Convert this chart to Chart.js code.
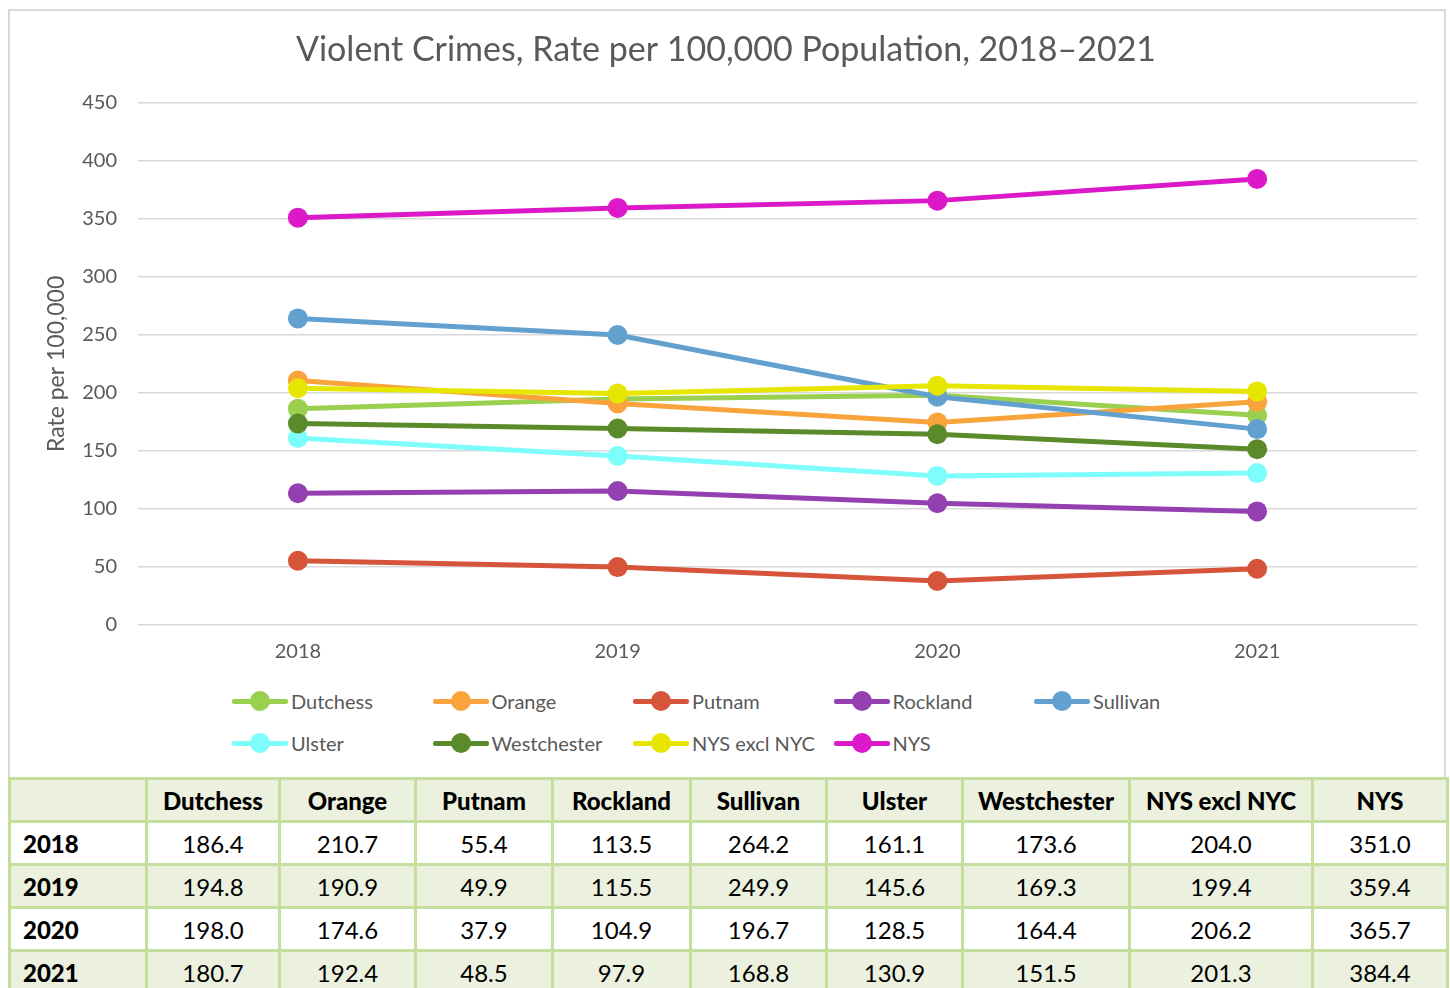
<!DOCTYPE html>
<html>
<head>
<meta charset="utf-8">
<script src="https://cdn.jsdelivr.net/npm/chart.js@4.4.1/dist/chart.umd.min.js"></script>
<style>
  html, body { margin: 0; padding: 0; background: #fff; width: 1450px; height: 988px; overflow: hidden; }
  body { position: relative; font-family: "Lato", sans-serif; }
  .frame {
    position: absolute; left: 8px; top: 9px; width: 1434px; height: 766px;
    border: 2px solid #d9d9d9; background: #fff;
  }
  .canvasWrap { position: absolute; left: 0; top: 0; width: 1434px; height: 665px; }
  .legend {
    position: absolute; left: 222px; top: 678px; width: 1010px;
    display: grid; grid-template-columns: repeat(5, 200.5px); row-gap: 18px;
  }
  .legend .item { display: flex; align-items: center; height: 24px; font-size: 20px; color: #595959; }
  .legend .sym { position: relative; width: 56px; height: 24px; margin-right: 3px; }
  .legend .sym .ln { position: absolute; left: 0; top: 9.5px; width: 56px; height: 5px; border-radius: 2px; }
  .legend .sym .dot { position: absolute; left: 18px; top: 2px; width: 20px; height: 20px; border-radius: 50%; }
  table {
    position: absolute; left: 8px; top: 777px; width: 1438px;
    border-collapse: collapse; table-layout: fixed; font-size: 24px; color: #000;
  }
  td, th { border: 3px solid #c4df9b; height: 40px; padding: 0; text-align: center; }
  th { font-weight: 900; background: #ebf1de; }
  tr:nth-child(odd) td { background: #ebf1de; }
  td.yr { text-align: left; padding-left: 12px; font-weight: 900; }
</style>
</head>
<body>
<div class="frame">
  <div class="canvasWrap"><canvas id="lineChart"></canvas></div>
  <div class="legend" id="legend"></div>
</div>
<table id="dataTable"></table>
<script>
const years = ["2018", "2019", "2020", "2021"];
const counties = ["Dutchess", "Orange", "Putnam", "Rockland", "Sullivan", "Ulster", "Westchester", "NYS excl NYC", "NYS"];
const colors = ["#9bcf4f", "#f9a33c", "#d6553a", "#9440b0", "#62a0d0", "#7efdfd", "#5a8a2a", "#e6e600", "#dc19c8"];

const dutchess = [186.4, 194.8, 198.0, 180.7];
const orange = [210.7, 190.9, 174.6, 192.4];
const putnam = [55.4, 49.9, 37.9, 48.5];
const rockland = [113.5, 115.5, 104.9, 97.9];
const sullivan = [264.2, 249.9, 196.7, 168.8];
const ulster = [161.1, 145.6, 128.5, 130.9];
const westchester = [173.6, 169.3, 164.4, 151.5];
const nysExclNyc = [204.0, 199.4, 206.2, 201.3];
const nys = [351.0, 359.4, 365.7, 384.4];

const series = [dutchess, orange, putnam, rockland, sullivan, ulster, westchester, nysExclNyc, nys];
const yTicks = [0, 50, 100, 150, 200, 250, 300, 350, 400, 450];

Chart.defaults.font.family = "Lato, sans-serif";
Chart.defaults.color = "#595959";

const ctx = document.getElementById("lineChart");
const myChart = new Chart(ctx, {
  type: "line",
  data: {
    labels: years,
    datasets: counties.map((name, i) => ({
      label: name,
      data: series[i],
      borderColor: colors[i],
      backgroundColor: colors[i],
      borderWidth: 5,
      pointRadius: 10,
      pointBorderWidth: 0,
      pointHoverRadius: 10,
      tension: 0,
      order: -i, // later series drawn on top, like Excel
    })),
  },
  options: {
    responsive: true,
    maintainAspectRatio: false,
    animation: false,
    layout: { padding: { left: 25, right: 27, top: 0, bottom: 12 } },
    plugins: {
      legend: { display: false },
      tooltip: { enabled: false },
      title: {
        display: true,
        text: "Violent Crimes, Rate per 100,000 Population, 2018\u20132021",
        font: { size: 34, weight: "normal" },
        color: "#595959",
        padding: { top: 19, bottom: 32 },
      },
    },
    scales: {
      x: {
        offset: true,
        grid: { display: false, drawTicks: false },
        border: { display: false },
        afterFit: (scale) => { scale.height = 39; },
        ticks: { font: { size: 20 }, padding: 15, color: "#595959" },
      },
      y: {
        min: 0,
        max: 450,
        afterBuildTicks: (scale) => { scale.ticks = yTicks.map((v) => ({ value: v })); },
        afterFit: (scale) => { scale.width = 103; },
        grid: { color: "#d9d9d9", lineWidth: 1.5, drawTicks: false },
        border: { display: false },
        ticks: { font: { size: 20 }, padding: 21, color: "#595959" },
        title: {
          display: true,
          text: "Rate per 100,000",
          font: { size: 23 },
          color: "#595959",
          padding: { top: 8, bottom: 0 },
        },
      },
    },
  },
});

// legend in Excel-like grid
const legendEl = document.getElementById("legend");
myChart.data.datasets.forEach((ds) => {
  const item = document.createElement("div");
  item.className = "item";
  item.innerHTML =
    '<span class="sym"><span class="ln" style="background:' + ds.borderColor + '"></span>' +
    '<span class="dot" style="background:' + ds.borderColor + '"></span></span>' + ds.label;
  legendEl.appendChild(item);
});

// data table
const colWidths = [137, 133, 136, 137, 138, 136, 136, 167, 183, 135];
const table = document.getElementById("dataTable");
const colgroup = document.createElement("colgroup");
colWidths.forEach((w) => {
  const c = document.createElement("col");
  c.style.width = w + "px";
  colgroup.appendChild(c);
});
table.appendChild(colgroup);
let head = "<tr><th></th>" + counties.map((c) => "<th>" + c + "</th>").join("") + "</tr>";
let rows = years.map((y, r) =>
  "<tr><td class='yr'>" + y + "</td>" + series.map((s) => "<td>" + s[r].toFixed(1) + "</td>").join("") + "</tr>"
).join("");
table.innerHTML += head + rows;
</script>
</body>
</html>
